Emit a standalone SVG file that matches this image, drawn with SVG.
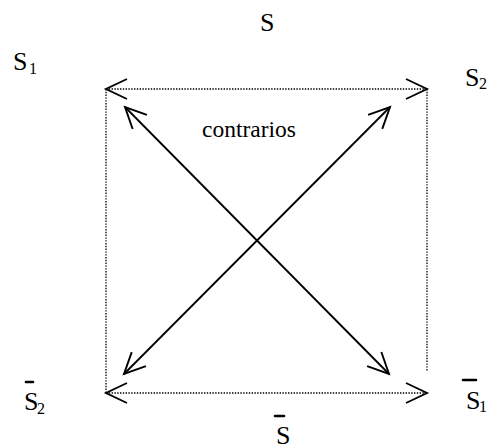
<svg xmlns="http://www.w3.org/2000/svg" width="490" height="448" viewBox="0 0 490 448">
<style>
.t{font-family:"Liberation Serif","Times New Roman",serif;fill:#000}
.big{font-size:26px}
.sub{font-size:16px}
.lbl{font-size:23.5px}
.dot{fill:none;stroke:#000;stroke-width:1.3;stroke-dasharray:1.4 1.4}
.sol{fill:none;stroke:#000;stroke-width:1.8}
.bar{stroke:#000;stroke-width:2.6;stroke-linecap:round}
</style>
<defs>
<marker id="v" viewBox="-24 -12 26 24" markerWidth="26" markerHeight="24" refX="0" refY="0" orient="auto-start-reverse" markerUnits="userSpaceOnUse" overflow="visible">
<path d="M-21,-10 L0,0 L-21,10" fill="none" stroke="#000" stroke-width="1.9" stroke-dasharray="none"/>
</marker>
</defs>
<rect width="490" height="448" fill="#fff"/>
<g id="connectors">
<line class="dot" x1="106" y1="89" x2="427" y2="89" marker-start="url(#v)" marker-end="url(#v)"/>
<line class="dot" x1="106" y1="393" x2="427" y2="393" marker-start="url(#v)" marker-end="url(#v)"/>
<line class="dot" x1="106" y1="89" x2="106" y2="393"/>
<line class="dot" x1="427" y1="89" x2="427" y2="371"/>
<line class="sol" x1="125" y1="107" x2="389" y2="374" marker-start="url(#v)" marker-end="url(#v)"/>
<line class="sol" x1="390" y1="107" x2="124" y2="374" marker-start="url(#v)" marker-end="url(#v)"/>
</g>
<g id="node-S">
<text class="t big" x="260" y="31">S</text>
</g>
<g id="node-S1">
<text class="t big" x="13" y="70">S</text><text class="t sub" x="29" y="74">1</text>
</g>
<g id="node-S2">
<text class="t big" x="465" y="86">S</text><text class="t sub" x="479" y="89">2</text>
</g>
<g id="node-contrarios">
<text class="t lbl" x="202" y="137">contrarios</text>
</g>
<g id="node-notS2">
<line class="bar" x1="26" y1="382" x2="33" y2="382"/>
<text class="t big" x="24" y="410">S</text><text class="t sub" x="37" y="414">2</text>
</g>
<g id="node-notS1">
<line class="bar" x1="463" y1="380" x2="476" y2="380"/>
<text class="t big" x="466" y="409">S</text><text class="t sub" x="479" y="412">1</text>
</g>
<g id="node-notS">
<line class="bar" x1="275" y1="416" x2="284" y2="416"/>
<text class="t big" x="276" y="444">S</text>
</g>
</svg>
